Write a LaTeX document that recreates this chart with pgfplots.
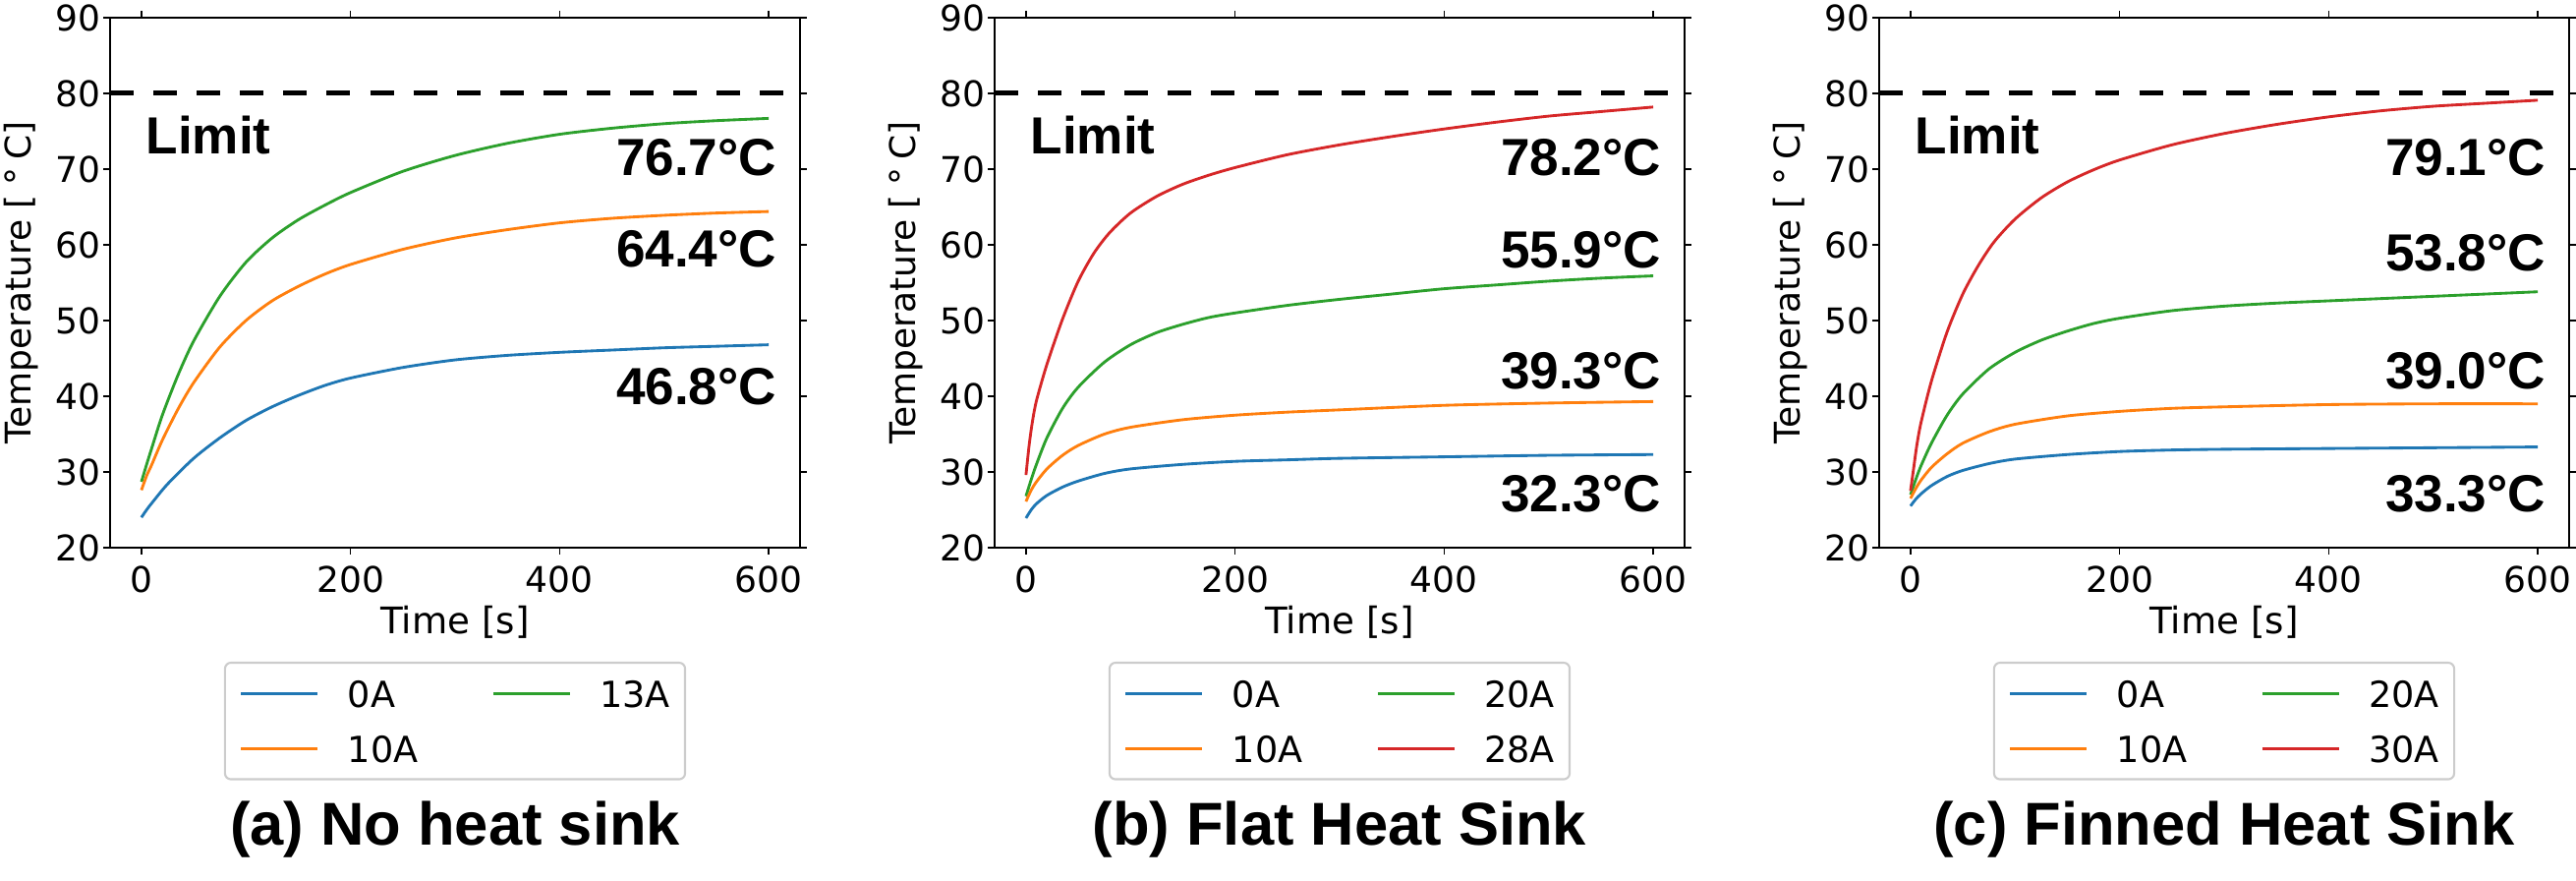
\documentclass[border=0pt]{standalone}
\usepackage{pgfplots}
\pgfplotsset{compat=1.18}
\usepackage{fontspec}
\setmainfont{DejaVu Sans}
\newfontfamily\annfont{Liberation Sans}

\definecolor{c0}{HTML}{1F77B4}
\definecolor{c1}{HTML}{FF7F0E}
\definecolor{c2}{HTML}{2CA02C}
\definecolor{c3}{HTML}{D62728}

\newcommand{\ann}{\annfont\bfseries\fontsize{17.7}{20}\selectfont}
\newcommand{\labfont}{\fontsize{12.4}{14}\selectfont}

\pgfplotsset{
  panel/.style={
    scale only axis, width=234pt, height=179.67pt,
    xmin=-30, xmax=630, ymin=20, ymax=90,
    xtick={0,200,400,600}, ytick={20,30,...,90},
    tick align=outside, major tick length=2.33pt,
    axis line style={line width=0.55pt},
    every tick/.style={black, line width=0.55pt},
    tick label style={font=\fontsize{12}{14}\selectfont, inner sep=0pt},
    /pgf/number format/assume math mode=true,
    xticklabel style={anchor=north, yshift=-3.7pt},
    yticklabel style={anchor=east, xshift=-0.8pt},
    xlabel={Time [s]},
    ylabel={Temperature [\hspace{0.28em}°\hspace{0.22em}C]},
    every axis x label/.style={at={(axis description cs:0.5,-0.163)}, anchor=base, font=\labfont},
    every axis y label/.style={at={(axis description cs:-0.1295,0.5)}, anchor=center, rotate=90,
      font=\fontsize{12}{14}\selectfont},
    title style={at={(axis description cs:0.5,-0.5955)}, anchor=base,
      font=\annfont\bfseries\fontsize{20.5}{24}\selectfont},
    legend columns=2, legend cell align=left,
    legend style={at={(axis description cs:0.5,-0.2152)}, anchor=north,
      draw=black!20, line width=0.7pt, rounded corners=2pt,
      inner xsep=5pt, inner ysep=5.8pt,
      font=\fontsize{12.2}{14}\selectfont,
      nodes={inner sep=0pt, text height=9.3pt, text depth=0pt},
      row sep=9.3pt,
      /tikz/every odd column/.append style={column sep=9.7pt},
      /tikz/every even column/.append style={column sep=25pt}},
    legend image code/.code={\draw[#1, line width=0.95pt] (0pt,0pt) -- (26pt,0pt);},
    every axis plot/.append style={line width=0.95pt, smooth, tension=0.45},
  },
  limitline/.style={black, line width=1.67pt, dash pattern=on 8pt off 6.7pt, forget plot, sharp plot},
}

\begin{document}
\begin{tikzpicture}
\useasboundingbox (0pt,0pt) rectangle (873.67pt,298.67pt);

% (a) no heat sink
\begin{axis}[panel, at={(37.33pt,113pt)}, anchor=south west, title={(a) No heat sink}]
  \addplot[c0] coordinates {(0,24.0) (5,25.0) (10,25.9) (25,28.4) (50,31.8) (75,34.5) (100,36.8) (125,38.6) (150,40.1) (175,41.4) (200,42.4) (250,43.8) (300,44.8) (350,45.4) (400,45.8) (450,46.1) (500,46.4) (550,46.6) (600,46.8)};
  \addlegendentry{0A}
  \addplot[c2] coordinates {(0,28.7) (5,31.0) (10,33.2) (20,37.5) (35,42.8) (50,47.3) (75,53.2) (100,57.7) (125,60.9) (150,63.3) (175,65.2) (200,66.9) (250,69.7) (300,71.8) (350,73.4) (400,74.6) (450,75.4) (500,76.0) (550,76.4) (600,76.7)};
  \addlegendentry{13A}
  \addplot[c1] coordinates {(0,27.6) (5,29.5) (10,31.0) (20,34.2) (35,38.3) (50,41.8) (75,46.5) (100,50.0) (125,52.6) (150,54.5) (175,56.1) (200,57.4) (250,59.4) (300,60.9) (350,62.0) (400,62.9) (450,63.5) (500,63.9) (550,64.2) (600,64.4)};
  \addlegendentry{10A}
  \addplot[limitline] coordinates {(-30,80) (630,80)};
  \node[anchor=base west, inner sep=0pt, font=\ann] at (axis cs:4,72) {Limit};
  \node[anchor=base east, inner sep=0pt, font=\ann] at (axis cs:608,69.2) {76.7°C};
  \node[anchor=base east, inner sep=0pt, font=\ann] at (axis cs:608,57.05) {64.4°C};
  \node[anchor=base east, inner sep=0pt, font=\ann] at (axis cs:608,38.9) {46.8°C};
\end{axis}

% (b) flat heat sink
\begin{axis}[panel, at={(337.33pt,113pt)}, anchor=south west, title={(b) Flat Heat Sink}]
  \addplot[c0] coordinates {(0,23.9) (5,25.0) (10,25.8) (20,26.9) (35,28.0) (50,28.8) (75,29.8) (100,30.4) (150,31.0) (200,31.4) (250,31.6) (300,31.8) (400,32.0) (500,32.2) (600,32.3)};
  \addlegendentry{0A}
  \addplot[c2] coordinates {(0,26.8) (5,29.0) (10,31.0) (20,34.5) (35,38.4) (50,41.2) (75,44.5) (100,46.8) (125,48.4) (150,49.5) (175,50.4) (200,51.0) (250,52.0) (300,52.8) (350,53.5) (400,54.2) (450,54.7) (500,55.2) (550,55.6) (600,55.9)};
  \addlegendentry{20A}
  \addplot[c1] coordinates {(0,26.1) (5,27.6) (10,28.7) (20,30.4) (35,32.2) (50,33.5) (75,35.0) (100,35.9) (150,36.9) (200,37.5) (250,37.9) (300,38.2) (400,38.8) (500,39.1) (600,39.3)};
  \addlegendentry{10A}
  \addplot[c3] coordinates {(0,29.6) (3,33.5) (6,36.5) (10,39.4) (20,44.2) (35,50.2) (50,55.2) (65,58.9) (80,61.6) (100,64.2) (125,66.4) (150,68.0) (175,69.2) (200,70.2) (250,71.9) (300,73.2) (350,74.3) (400,75.3) (450,76.2) (500,77.0) (550,77.6) (600,78.2)};
  \addlegendentry{28A}
  \addplot[limitline] coordinates {(-30,80) (630,80)};
  \node[anchor=base west, inner sep=0pt, font=\ann] at (axis cs:4,72) {Limit};
  \node[anchor=base east, inner sep=0pt, font=\ann] at (axis cs:608,69.2) {78.2°C};
  \node[anchor=base east, inner sep=0pt, font=\ann] at (axis cs:608,57.0) {55.9°C};
  \node[anchor=base east, inner sep=0pt, font=\ann] at (axis cs:608,41.0) {39.3°C};
  \node[anchor=base east, inner sep=0pt, font=\ann] at (axis cs:608,24.8) {32.3°C};
\end{axis}

% (c) finned heat sink
\begin{axis}[panel, at={(637.33pt,113pt)}, anchor=south west, title={(c) Finned Heat Sink}]
  \addplot[c0] coordinates {(0,25.5) (5,26.4) (10,27.1) (20,28.2) (35,29.4) (50,30.2) (75,31.1) (100,31.7) (150,32.3) (200,32.7) (250,32.9) (300,33.0) (400,33.1) (500,33.2) (600,33.3)};
  \addlegendentry{0A}
  \addplot[c2] coordinates {(0,27.0) (5,29.0) (10,30.8) (20,33.8) (35,37.5) (50,40.3) (75,43.6) (100,45.8) (125,47.4) (150,48.6) (175,49.6) (200,50.3) (250,51.3) (300,51.9) (350,52.3) (400,52.6) (450,52.9) (500,53.2) (550,53.5) (600,53.8)};
  \addlegendentry{20A}
  \addplot[c1] coordinates {(0,26.5) (5,27.8) (10,28.9) (20,30.6) (35,32.4) (50,33.8) (75,35.3) (100,36.3) (150,37.4) (200,38.0) (250,38.4) (300,38.6) (400,38.9) (500,39.0) (600,39.0)};
  \addlegendentry{10A}
  \addplot[c3] coordinates {(0,27.5) (3,30.5) (6,33.5) (10,36.5) (20,42.0) (35,48.5) (50,53.5) (65,57.3) (80,60.4) (100,63.4) (125,66.2) (150,68.3) (175,69.9) (200,71.2) (250,73.2) (300,74.7) (350,75.9) (400,76.9) (450,77.7) (500,78.3) (550,78.7) (600,79.1)};
  \addlegendentry{30A}
  \addplot[limitline] coordinates {(-30,80) (630,80)};
  \node[anchor=base west, inner sep=0pt, font=\ann] at (axis cs:4,72) {Limit};
  \node[anchor=base east, inner sep=0pt, font=\ann] at (axis cs:608,69.2) {79.1°C};
  \node[anchor=base east, inner sep=0pt, font=\ann] at (axis cs:608,56.6) {53.8°C};
  \node[anchor=base east, inner sep=0pt, font=\ann] at (axis cs:608,41.0) {39.0°C};
  \node[anchor=base east, inner sep=0pt, font=\ann] at (axis cs:608,24.8) {33.3°C};
\end{axis}
\end{tikzpicture}
\end{document}
